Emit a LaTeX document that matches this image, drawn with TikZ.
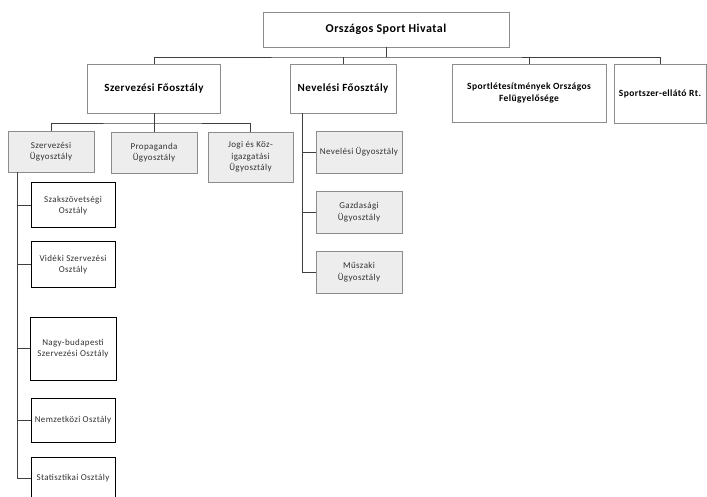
\documentclass[tikz,border=0pt]{standalone}
\usepackage{fontspec}
\setmainfont{Carlito}[LetterSpace=4]

\begin{document}
\begin{tikzpicture}[x=1pt,y=-1pt,
	box/.style={rectangle, draw=black!45, line width=0.8pt, fill=white, align=center, inner sep=1pt, font=\bfseries\fontsize{11}{13}\selectfont},
	ugy/.style={box, fill=black!7, font=\fontsize{9}{11.5}\selectfont, text=black!80},
	oszt/.style={box, draw=black, line width=1pt, font=\fontsize{9}{11.5}\selectfont, text=black!80},
	wh/.style 2 args={minimum width=#1pt, minimum height=#2pt},
	conn/.style={draw=black!75, line width=0.8pt}]
				\useasboundingbox (0,0) rectangle (707,497);

				% top and main departments
				\node[box, wh={246}{35}, font=\bfseries\fontsize{12}{14}\selectfont] (osh) at (386,29.5) {Országos Sport Hivatal};
				\node[box, wh={133}{49}] (szf) at (154,88.5)  {Szervezési Főosztály};
				\node[box, wh={106}{49}] (nef) at (343,88.5)  {Nevelési Főosztály};
				\node[box, wh={154}{58}, font=\bfseries\fontsize{9.5}{11.5}\selectfont] (slf) at (529,93) {Sportlétesítmények Országos\\Felügyelősége};
				\node[box, wh={92}{59}, font=\bfseries\fontsize{9.5}{11.5}\selectfont]  (sze) at (660,93.5)  {Sportszer-ellátó Rt.};

				% ugyosztalyok
				\node[ugy, wh={86}{41}] (szu) at (51,151.5)  {Szervezési\\Ügyosztály};
				\node[ugy, wh={86}{41}] (pru) at (154,152.5) {Propaganda\\Ügyosztály};
				\node[ugy, wh={85}{50}] (jku) at (250.5,157) {Jogi és Köz-\\igazgatási\\Ügyosztály};
				\node[ugy, wh={86}{42}] (neu) at (359,152)   {Nevelési Ügyosztály};
				\node[ugy, wh={86}{42}] (gzu) at (359,212)   {Gazdasági\\Ügyosztály};
				\node[ugy, wh={86}{42}] (msu) at (359,272)   {Műszaki\\Ügyosztály};

				% osztalyok
				\node[oszt, wh={84}{45}] (ssz) at (73,205.5) {Szakszövetségi\\Osztály};
				\node[oszt, wh={84}{45}] (vsz) at (73,264.5) {Vidéki Szervezési\\Osztály};
				\node[oszt, wh={86}{63}] (nbs) at (73,348.5) {Nagy-budapesti\\Szervezési Osztály};
				\node[oszt, wh={84}{44}] (nko) at (73,420)   {Nemzetközi Osztály};
				\node[oszt, wh={84}{43}] (sto) at (73,478.5) {Statisztikai Osztály};

				\coordinate (bus)  at (386,57);
				\coordinate (sbus) at (154,123);
				\coordinate (ssp)  at (17,172);
				\coordinate (nsp)  at (302,113);

				\draw[conn] (osh.south) -- (bus);
				\draw[conn] (szf.north) |- (bus) -| (sze.north);
				\draw[conn] (nef.north) -- (nef.north |- bus)
						  (slf.north) -- (slf.north |- bus);

				\draw[conn] (szf.south) -- (pru.north);
				\draw[conn] (szu.north) |- (sbus) -| (jku.north);

				\draw[conn] (ssp) |- (sto.west);
				\foreach \o in {ssz,vsz,nbs,nko}
					\draw[conn] (\o.west) -- (\o.west -| ssp);

				\draw[conn] (nsp) |- (msu.west);
				\foreach \u in {neu,gzu}
					\draw[conn] (\u.west) -- (\u.west -| nsp);

			\end{tikzpicture}
\end{document}
